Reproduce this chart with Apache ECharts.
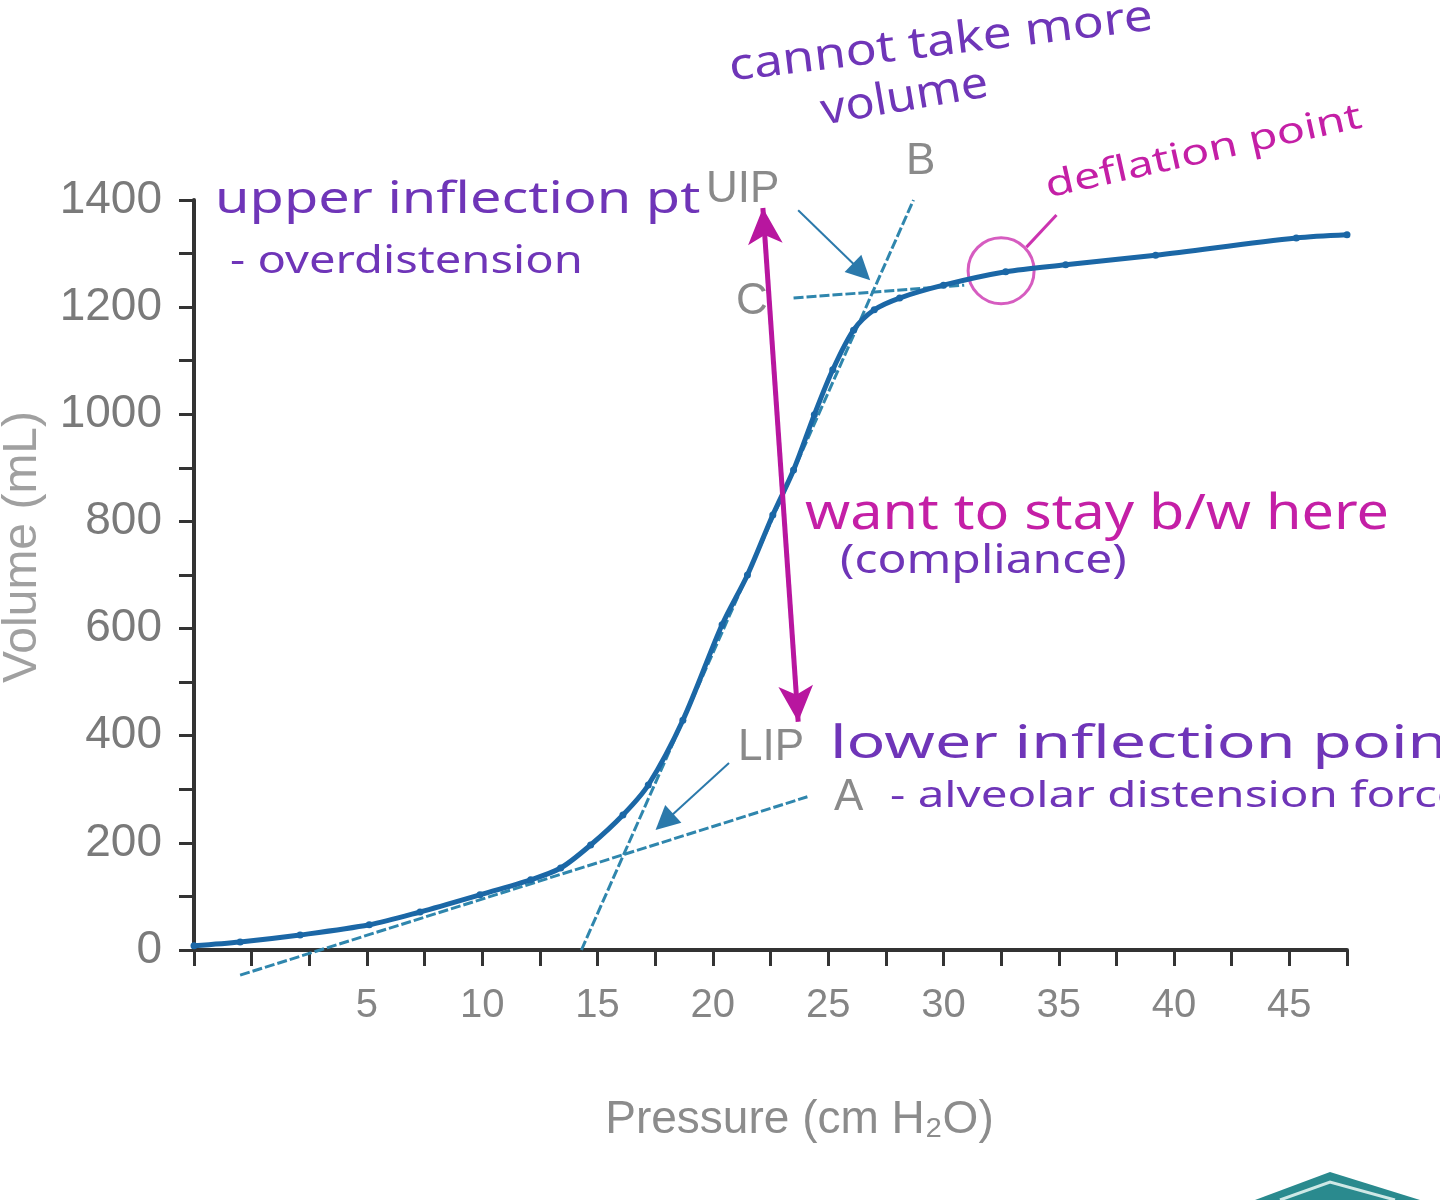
<!DOCTYPE html>
<html>
<head>
<meta charset="utf-8">
<script src="https://cdn.jsdelivr.net/npm/echarts@6/dist/echarts.min.js"></script>
<style>
  html, body { margin: 0; padding: 0; background: #fff; }
  #main { width: 1440px; height: 1200px; }
</style>
</head>
<body>
<div id="main"></div>
<script>
// pressure-volume curve
var pressure = [-2.5, -0.5, 2.1, 5.1, 7.3, 9.9, 12.1, 13.4, 14.7, 16.1, 17.2, 18.7, 20.4, 21.5, 22.6, 23.5, 24.4, 25.2, 26.1, 27.0, 28.1, 30.0, 32.7, 35.3, 39.2, 45.3, 47.5];
var volume = [8, 15, 28, 47, 71, 103, 131, 153, 196, 252, 308, 429, 607, 700, 812, 896, 999, 1083, 1157, 1195, 1217, 1241, 1266, 1279, 1297, 1329, 1335];

// tangent lines A, B, C
var tangentA = [[-0.5, -47], [24.1, 286]];
var tangentB = [[14.3, 0], [28.7, 1400]];
var tangentC = [[23.5, 1217], [30.9, 1241]];

// annotation anchors (data coords)
var uipArrow = [[23.7, 1381], [26.45, 1266]];
var lipArrow = [[20.7, 349], [17.9, 239]];
var complianceArrow = [[22.17, 1385], [23.7, 426]];
var deflationPt = [32.5, 1268];
var deflationTail = [[33.6, 1312], [34.9, 1372]];

var xTicks = [5, 10, 15, 20, 25, 30, 35, 40, 45];
var yTicks = [0, 200, 400, 600, 800, 1000, 1200, 1400];

var curveData = pressure.map(function (p, i) { return [p, volume[i]]; });

var blue = '#1b67a6';
var teal = '#2f86ad';
var magenta = '#b8169f';
var pink = '#c41fa6';
var purple = '#6f35b8';
var grey = '#8a8a8a';
var hand = '"Noto Sans", "DejaVu Sans", sans-serif';
var plain = '"Liberation Sans", Arial, sans-serif';

function arrowSeries(points, color, width, symbols, size) {
  return {
    type: 'line', data: [], silent: true,
    markLine: {
      silent: true, animation: false,
      symbol: symbols, symbolSize: size,
      label: { show: false },
      lineStyle: { color: color, width: width, type: 'solid' },
      emphasis: { disabled: true },
      data: [[{ coord: points[0] }, { coord: points[1] }]]
    }
  };
}

function note(text, x, y, size, color, scaleX, rotation, vAlign, family) {
  return {
    type: 'text', x: x, y: y, scaleX: scaleX || 1, rotation: rotation || 0,
    style: { text: text, font: size + 'px ' + (family || hand), fill: color, verticalAlign: vAlign || 'middle' }
  };
}

var myChart = echarts.init(document.getElementById('main'));
var option = {
  animation: false,
  backgroundColor: '#fff',
  grid: { left: 194, right: 93, top: 200, bottom: 250, outerBoundsMode: 'none', containLabel: false },
  xAxis: {
    type: 'value', min: -2.5, max: 47.5, interval: 2.5,
    name: 'Pressure (cm H₂O)', nameLocation: 'middle', nameGap: 147,
    nameTextStyle: { color: '#8c8c8c', fontSize: 46, fontFamily: plain, padding: [0, 0, 0, 58] },
    axisLine: { onZero: false, lineStyle: { color: '#333', width: 4 } },
    axisTick: { length: 16, lineStyle: { color: '#333', width: 3 } },
    splitLine: { show: false },
    axisLabel: {
      color: '#858585', fontSize: 40, margin: 36, fontFamily: plain,
      formatter: function (v) { return xTicks.indexOf(v) >= 0 ? String(v) : ''; }
    }
  },
  yAxis: {
    type: 'value', min: 0, max: 1400, interval: 100,
    name: 'Volume (mL)', nameLocation: 'middle', nameGap: 147,
    nameTextStyle: { color: '#a0a0a0', fontSize: 48, fontFamily: plain, padding: [0, 0, 0, 56] },
    axisLine: { show: true, onZero: false, lineStyle: { color: '#333', width: 4 } },
    axisTick: { show: true, length: 15, lineStyle: { color: '#333', width: 3 } },
    splitLine: { show: false },
    axisLabel: {
      color: '#7a7a7a', fontSize: 46, margin: 32, fontFamily: plain,
      formatter: function (v) { return yTicks.indexOf(v) >= 0 ? String(v) : ''; }
    }
  },
  series: [
    {
      name: 'A', type: 'line', data: tangentA, clip: false, showSymbol: false, silent: true,
      lineStyle: { color: teal, width: 3, type: [10, 3] }
    },
    {
      name: 'B', type: 'line', data: tangentB, clip: false, showSymbol: false, silent: true,
      lineStyle: { color: teal, width: 3, type: [10, 3] }
    },
    {
      name: 'C', type: 'line', data: tangentC, clip: false, showSymbol: false, silent: true,
      lineStyle: { color: teal, width: 3, type: [10, 3] }
    },
    {
      name: 'P-V curve', type: 'line', data: curveData, smooth: 0.3, clip: false,
      symbol: 'circle', symbolSize: 7, showSymbol: true,
      itemStyle: { color: blue },
      lineStyle: { color: blue, width: 5 }
    },
    arrowSeries(uipArrow, '#2b79ab', 2, ['none', 'triangle'], 24),
    arrowSeries(lipArrow, '#2b79ab', 2, ['none', 'triangle'], 24),
    arrowSeries(complianceArrow, magenta, 5, ['arrow', 'arrow'], [26, 36]),
    arrowSeries(deflationTail, '#cc33b0', 3, ['none', 'none'], 1),
    {
      name: 'deflation point', type: 'scatter', data: [deflationPt], silent: true,
      symbol: 'circle', symbolSize: 66,
      itemStyle: { color: 'rgba(0,0,0,0)', borderColor: '#cc33b0', borderWidth: 3 }
    }
  ],
  graphic: [
    note('cannot take more', 732, 90, 44, purple, 1.17, 0.12, 'bottom'),
    note('volume', 825, 134, 44, purple, 1.1, 0.17, 'bottom'),
    note('upper inflection pt', 215, 200, 44, purple, 1.27),
    note('- overdistension', 230, 262, 38, purple, 1.24),
    note('UIP', 706, 190, 44, grey, 1, 0, 'middle', plain),
    note('B', 906, 162, 44, grey, 1, 0, 'middle', plain),
    note('C', 736, 302, 44, grey, 1, 0, 'middle', plain),
    note('LIP', 738, 748, 44, grey, 1, 0, 'middle', plain),
    note('A', 834, 798, 44, grey, 1, 0, 'middle', plain),
    note('want to stay b/w here', 805, 515, 50, pink, 1.15),
    note('(compliance)', 840, 562, 40, purple, 1.2),
    note('lower inflection point', 830, 745, 46, purple, 1.4),
    note('- alveolar distension force', 890, 797, 36, purple, 1.32),
    note('deflation point', 1050, 205, 36, pink, 1.3, 0.22, 'bottom'),
    { type: 'polygon', shape: { points: [[1255, 1200], [1330, 1172], [1420, 1200]] }, style: { fill: '#2a8a8e' } },
    { type: 'polyline', shape: { points: [[1280, 1200], [1330, 1182], [1395, 1200]] }, style: { stroke: '#cfe8e6', lineWidth: 3, fill: null } }
  ]
};
myChart.setOption(option);
window.addEventListener('resize', function () {
  myChart.resize();
});
</script>
</body>
</html>
